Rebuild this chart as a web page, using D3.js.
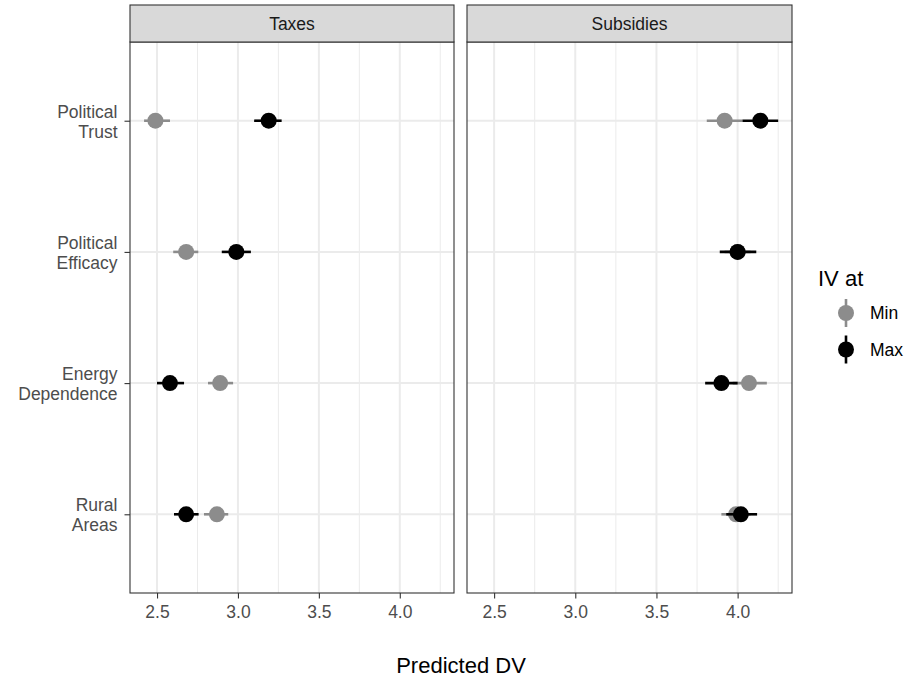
<!DOCTYPE html>
<html>
<head>
<meta charset="utf-8">
<script src="https://cdn.jsdelivr.net/npm/d3@7"></script>
<style>
  body { margin: 0; background: #fff; }
  text { font-family: "Liberation Sans", Arial, sans-serif; }
</style>
</head>
<body>
<div id="chart"></div>
<script>
const categories = ["Political Trust", "Political Efficacy", "Energy Dependence", "Rural Areas"];
const panels = ["Taxes", "Subsidies"];
const levels = ["Min", "Max"];
const xTicks = [2.5, 3.0, 3.5, 4.0];
const xMinor = [2.75, 3.25, 3.75, 4.25];

// Taxes
const taxMin = [2.49, 2.68, 2.89, 2.87];
const taxMinLo = [2.42, 2.60, 2.815, 2.79];
const taxMinHi = [2.58, 2.755, 2.97, 2.94];
const taxMax = [3.19, 2.99, 2.58, 2.68];
const taxMaxLo = [3.10, 2.90, 2.50, 2.605];
const taxMaxHi = [3.27, 3.08, 2.667, 2.757];

// Subsidies
const subMin = [3.92, 4.00, 4.07, 3.99];
const subMinLo = [3.81, 3.92, 3.97, 3.90];
const subMinHi = [4.03, 4.08, 4.18, 4.08];
const subMax = [4.14, 4.00, 3.90, 4.02];
const subMaxLo = [4.03, 3.89, 3.80, 3.93];
const subMaxHi = [4.25, 4.115, 4.00, 4.12];

const colors = { Min: "#8c8c8c", Max: "#000000" };

const width = 909, height = 679;
const panelTop = 42, panelBottom = 593, stripTop = 5;
const panelX = [[130, 454], [467, 792]];
const fontSize = 17.5;

const svg = d3.select("#chart").append("svg")
  .attr("width", width).attr("height", height);

function rows(est, lo, hi, level) {
  return categories.map((c, i) => ({ cat: c, level: level, est: est[i], lo: lo[i], hi: hi[i] }));
}
const panelData = {
  Taxes: rows(taxMin, taxMinLo, taxMinHi, "Min").concat(rows(taxMax, taxMaxLo, taxMaxHi, "Max")),
  Subsidies: rows(subMin, subMinLo, subMinHi, "Min").concat(rows(subMax, subMaxLo, subMaxHi, "Max"))
};

const y = d3.scalePoint().domain(categories).range([panelTop, panelBottom]).padding(0.6);

panels.forEach((p, pi) => {
  const [x0, x1] = panelX[pi];
  const x = d3.scaleLinear().domain([2.333, 4.335]).range([x0, x1]);
  const g = svg.append("g");

  // grid
  g.selectAll(".minor").data(xMinor).join("line")
    .attr("x1", d => x(d)).attr("x2", d => x(d))
    .attr("y1", panelTop).attr("y2", panelBottom)
    .attr("stroke", "#ebebeb").attr("stroke-width", 1);
  g.selectAll(".major").data(xTicks).join("line")
    .attr("x1", d => x(d)).attr("x2", d => x(d))
    .attr("y1", panelTop).attr("y2", panelBottom)
    .attr("stroke", "#ebebeb").attr("stroke-width", 2);
  g.selectAll(".hgrid").data(categories).join("line")
    .attr("x1", x0).attr("x2", x1)
    .attr("y1", d => y(d)).attr("y2", d => y(d))
    .attr("stroke", "#ebebeb").attr("stroke-width", 2);

  // error bars and points, Min first then Max on top
  levels.forEach(lv => {
    const d = panelData[p].filter(r => r.level === lv);
    g.selectAll(".bar-" + lv).data(d).join("line")
      .attr("x1", r => x(r.lo)).attr("x2", r => x(r.hi))
      .attr("y1", r => y(r.cat)).attr("y2", r => y(r.cat))
      .attr("stroke", colors[lv]).attr("stroke-width", 2.6);
    g.selectAll(".pt-" + lv).data(d).join("circle")
      .attr("cx", r => x(r.est)).attr("cy", r => y(r.cat))
      .attr("r", 8).attr("fill", colors[lv]);
  });

  // panel border
  g.append("rect")
    .attr("x", x0).attr("y", panelTop)
    .attr("width", x1 - x0).attr("height", panelBottom - panelTop)
    .attr("fill", "none").attr("stroke", "#333333").attr("stroke-width", 1.1);

  // strip
  g.append("rect")
    .attr("x", x0).attr("y", stripTop)
    .attr("width", x1 - x0).attr("height", panelTop - stripTop)
    .attr("fill", "#d9d9d9").attr("stroke", "#333333").attr("stroke-width", 1.1);
  g.append("text")
    .attr("x", (x0 + x1) / 2).attr("y", 30)
    .attr("text-anchor", "middle")
    .attr("font-size", fontSize).attr("fill", "#1a1a1a")
    .text(p);

  // x axis
  const ax = g.append("g")
    .attr("transform", `translate(0, ${panelBottom})`)
    .call(d3.axisBottom(x).tickValues(xTicks).tickFormat(d3.format(".1f")).tickSize(5.5).tickPadding(7.5));
  ax.select(".domain").remove();
  ax.selectAll(".tick line").attr("stroke", "#333333").attr("stroke-width", 1.1);
  ax.selectAll(".tick text")
    .attr("font-size", fontSize).attr("fill", "#4d4d4d")
    .attr("font-family", "Liberation Sans, Arial, sans-serif");

  // y axis on the first panel
  if (pi === 0) {
    const ay = g.append("g")
      .attr("transform", `translate(${x0}, 0)`)
      .call(d3.axisLeft(y).tickSize(5.5).tickFormat(""));
    ay.select(".domain").remove();
    ay.selectAll(".tick line").attr("stroke", "#333333").attr("stroke-width", 1.1);
    categories.forEach(c => {
      const words = c.split(" ");
      const t = g.append("text")
        .attr("x", x0 - 12.5).attr("y", y(c) - 3)
        .attr("text-anchor", "end")
        .attr("font-size", fontSize).attr("fill", "#4d4d4d");
      t.append("tspan").attr("x", x0 - 12.5).text(words[0]);
      t.append("tspan").attr("x", x0 - 12.5).attr("dy", 20).text(words[1]);
    });
  }
});

// x axis title
svg.append("text")
  .attr("x", (panelX[0][0] + panelX[1][1]) / 2).attr("y", 673)
  .attr("text-anchor", "middle")
  .attr("font-size", 22).attr("fill", "#000")
  .text("Predicted DV");

// legend
const legend = svg.append("g");
legend.append("text")
  .attr("x", 818).attr("y", 286)
  .attr("font-size", 22).attr("fill", "#000")
  .text("IV at");
levels.forEach((lv, i) => {
  const cy = 313 + i * 36.5;
  legend.append("line")
    .attr("x1", 846).attr("x2", 846)
    .attr("y1", cy - 14).attr("y2", cy + 14)
    .attr("stroke", colors[lv]).attr("stroke-width", 2.6);
  legend.append("circle")
    .attr("cx", 846).attr("cy", cy).attr("r", 8).attr("fill", colors[lv]);
  legend.append("text")
    .attr("x", 870).attr("y", cy + 6)
    .attr("font-size", fontSize).attr("fill", "#000")
    .text(lv);
});
</script>
</body>
</html>
